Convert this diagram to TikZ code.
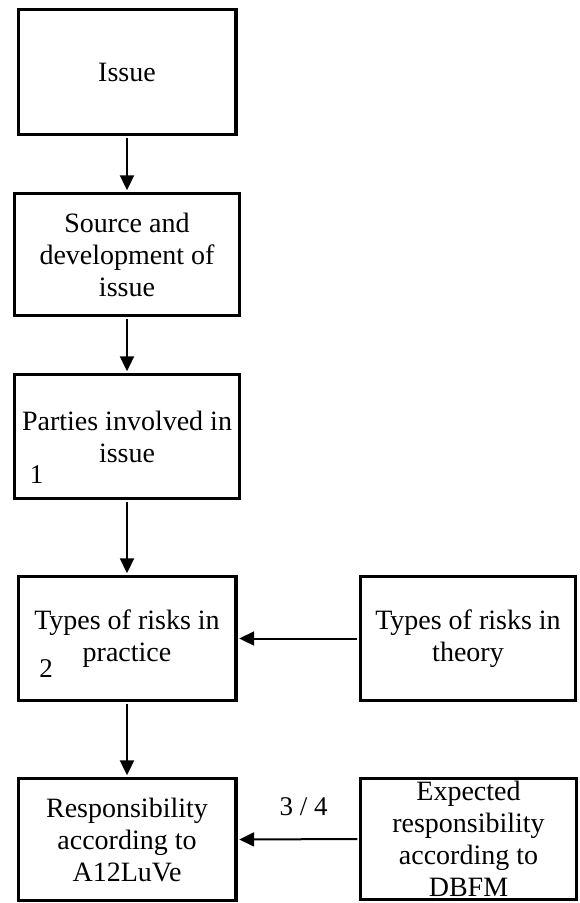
\documentclass[tikz,border=0pt]{standalone}
\usepackage{fontspec}
\setmainfont{Liberation Serif}
\usetikzlibrary{arrows.meta}
\begin{document}
\begin{tikzpicture}[x=1pt,y=1pt,
  box/.style={draw=black, line width=3.4pt, fill=white, inner sep=0pt,
    align=center, font=\fontsize{28}{32}\selectfont},
  num/.style={inner sep=0pt, anchor=base, font=\fontsize{27}{30}\selectfont},
  arr/.style={draw=black, line width=2pt,
    -{Triangle[length=15pt,width=14pt]}, shorten >=1.7pt, shorten <=1.7pt}]
  \useasboundingbox (0,0) rectangle (579,-903);
  % main column
  \node[box, minimum width=217.6, minimum height=124.6] (issue) at (127,-72) {Issue};
  \node[box, minimum width=224.6, minimum height=121.6] (source) at (127,-254.5)
    {Source and\\development of\\issue};
  \node[box, minimum width=224.6, minimum height=123.6] (parties) at (127,-436.5)
    {Parties involved in\\issue};
  \node[box, minimum width=217.6, minimum height=123.6] (practice) at (127,-638.5)
    {Types of risks in\\practice};
  \node[box, minimum width=217.6, minimum height=121.6] (resp) at (127,-839.5)
    {Responsibility\\according to\\A12LuVe};
  % right column
  \node[box, minimum width=214.6, minimum height=123.6] (theory) at (468,-638.5)
    {Types of risks in\\theory};
  \node[box, minimum width=215.6, minimum height=120.6] (expected) at (468.5,-839)
    {Expected\\responsibility\\according to\\DBFM};
  % step numbers
  \node[num] (n1) at (36.5,-483) {1};
  \node[num] (n2) at (46,-677) {2};
  \node[num] (n34) at (303.5,-815) {3~/~4};
  % connectors
  \draw[arr] (issue.south) -- (source.north);
  \draw[arr] (source.south) -- (parties.north);
  \draw[arr] (parties.south) -- (practice.north);
  \draw[arr] (practice.south) -- (resp.north);
  \draw[arr] (theory.west) -- (practice.east);
  \draw[arr] (expected.west) -- (resp.east);
\end{tikzpicture}
\end{document}
